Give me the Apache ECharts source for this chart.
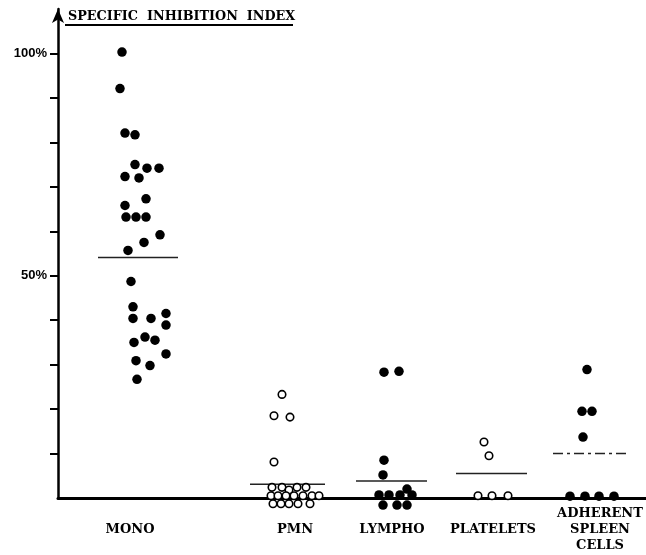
<!DOCTYPE html>
<html>
<head>
<meta charset="utf-8">
<script src="https://cdn.jsdelivr.net/npm/echarts@6/dist/echarts.min.js"></script>
<style>
  html, body { margin: 0; padding: 0; background: #fff; }
  #main { width: 646px; height: 555px; }
</style>
</head>
<body>
<div id="main"></div>
<script>
// groups along the x axis
var categories = ['MONO', 'PMN', 'LYMPHO', 'PLATELETS', 'ADHERENT\nSPLEEN\nCELLS'];
var catPos = [1, 2.65, 3.62, 4.63, 5.70];

// specific inhibition index (%) per cell, with horizontal spread inside its group
var monoValues = [100.3, 92.1, 82.1, 81.7, 75.0, 74.2, 74.2, 72.3, 72.0, 67.3, 65.8, 63.2, 63.2, 63.2, 59.2,
                  57.5, 55.7, 48.7, 43.0, 40.4, 40.4, 41.5, 38.9, 35.0, 36.2, 35.5, 32.4, 30.9, 29.8, 26.7];
var monoSpread = [-0.08, -0.10, -0.05, 0.05, 0.05, 0.17, 0.29, -0.05, 0.09, 0.16, -0.05, -0.04, 0.06, 0.16, 0.30,
                  0.14, -0.02, 0.01, 0.03, 0.03, 0.21, 0.36, 0.36, 0.04, 0.15, 0.25, 0.36, 0.06, 0.20, 0.07];

var pmnValues = [23.3, 18.5, 18.2, 8.1,
                 2.4, 2.4, 1.8, 2.4, 2.4,
                 0.5, 0.5, 0.5, 0.5, 0.5, 0.5, 0.5,
                 -1.3, -1.3, -1.3, -1.3, -1.3];
var pmnSpread = [-0.13, -0.21, -0.05, -0.21,
                 -0.23, -0.13, -0.06, 0.02, 0.11,
                 -0.24, -0.17, -0.09, -0.01, 0.08, 0.17, 0.24,
                 -0.22, -0.14, -0.06, 0.03, 0.15];

var lymphoValues = [28.3, 28.5, 8.5, 5.2, 0.7, 0.7, 0.7, 0.7, 2.0, -1.6, -1.6, -1.6];
var lymphoSpread = [-0.08, 0.07, -0.08, -0.09, -0.13, -0.03, 0.08, 0.20, 0.15, -0.09, 0.05, 0.15];

var plateletValues = [12.6, 9.5, 0.5, 0.5, 0.5];
var plateletSpread = [-0.09, -0.04, -0.15, -0.01, 0.15];

var spleenValues = [28.9, 19.5, 19.5, 13.7, 0.4, 0.4, 0.4, 0.4];
var spleenSpread = [-0.13, -0.18, -0.08, -0.17, -0.30, -0.15, -0.01, 0.14];

// group means (horizontal bars)
var meanValues = [54.1, 3.1, 3.8, 5.5, 10.0];
var meanFrom = [-0.32, -0.45, -0.36, -0.37, -0.47];
var meanTo = [0.48, 0.30, 0.35, 0.34, 0.28];

var yTicks = [10, 20, 30, 40, 50, 60, 70, 80, 90, 100];
var yLabels = [50, 100];

function pts(i, values, spread) {
  return values.map(function (v, k) { return [catPos[i] + spread[k], v]; });
}

var filled = pts(0, monoValues, monoSpread)
  .concat(pts(2, lymphoValues, lymphoSpread))
  .concat(pts(4, spleenValues, spleenSpread));
var open = pts(1, pmnValues, pmnSpread)
  .concat(pts(3, plateletValues, plateletSpread));

var serif = 'DejaVu Serif';

var series = [
  {
    type: 'scatter', data: filled, symbolSize: 9.5, clip: false, z: 5,
    itemStyle: { color: '#000', opacity: 1 }
  },
  {
    type: 'scatter', data: open, symbolSize: 7.5, clip: false, z: 5,
    itemStyle: { color: '#fff', borderColor: '#000', borderWidth: 1.6, opacity: 1 }
  }
];
meanValues.forEach(function (m, i) {
  series.push({
    type: 'line', symbol: 'none', silent: true, z: 3,
    data: [[catPos[i] + meanFrom[i], m], [catPos[i] + meanTo[i], m]],
    lineStyle: { color: '#222', width: 1.5, type: i === 4 ? [10, 4, 3, 4] : 'solid' }
  });
});

var chart = echarts.init(document.getElementById('main'));
chart.setOption({
  animation: false,
  backgroundColor: '#fff',
  title: {
    text: 'SPECIFIC  INHIBITION  INDEX',
    left: 63, top: 5,
    textStyle: { fontFamily: serif, fontWeight: 'bold', fontSize: 12.8, color: '#000' }
  },
  graphic: [{
    type: 'line', shape: { x1: 65, y1: 25, x2: 293, y2: 25 },
    style: { stroke: '#000', lineWidth: 2 }
  }],
  grid: { left: 58, right: 0, top: 9, bottom: 57 },
  xAxis: {
    type: 'value', min: 0.28, max: 6.16,
    splitLine: { show: false },
    axisTick: { show: false },
    axisLine: { lineStyle: { color: '#000', width: 3 } },
    axisLabel: {
      customValues: catPos,
      formatter: function (v) { return categories[catPos.indexOf(v)]; },
      fontFamily: serif, fontWeight: 'bold', fontSize: 13, lineHeight: 16,
      color: '#000', margin: 32, verticalAlign: 'middle', align: 'center'
    }
  },
  yAxis: {
    type: 'value', min: 0, max: 110,
    splitLine: { show: false },
    axisLine: {
      show: true, symbol: ['none', 'arrow'], symbolSize: [9, 14],
      lineStyle: { color: '#000', width: 2.5 }
    },
    axisTick: { show: true, customValues: yTicks, length: 8, lineStyle: { color: '#000', width: 2 } },
    axisLabel: {
      customValues: yLabels,
      formatter: function (v) { return v + '%'; },
      fontFamily: 'Liberation Sans', fontWeight: 'bold', fontSize: 13, color: '#000', margin: 11
    }
  },
  series: series
});
</script>
</body>
</html>
